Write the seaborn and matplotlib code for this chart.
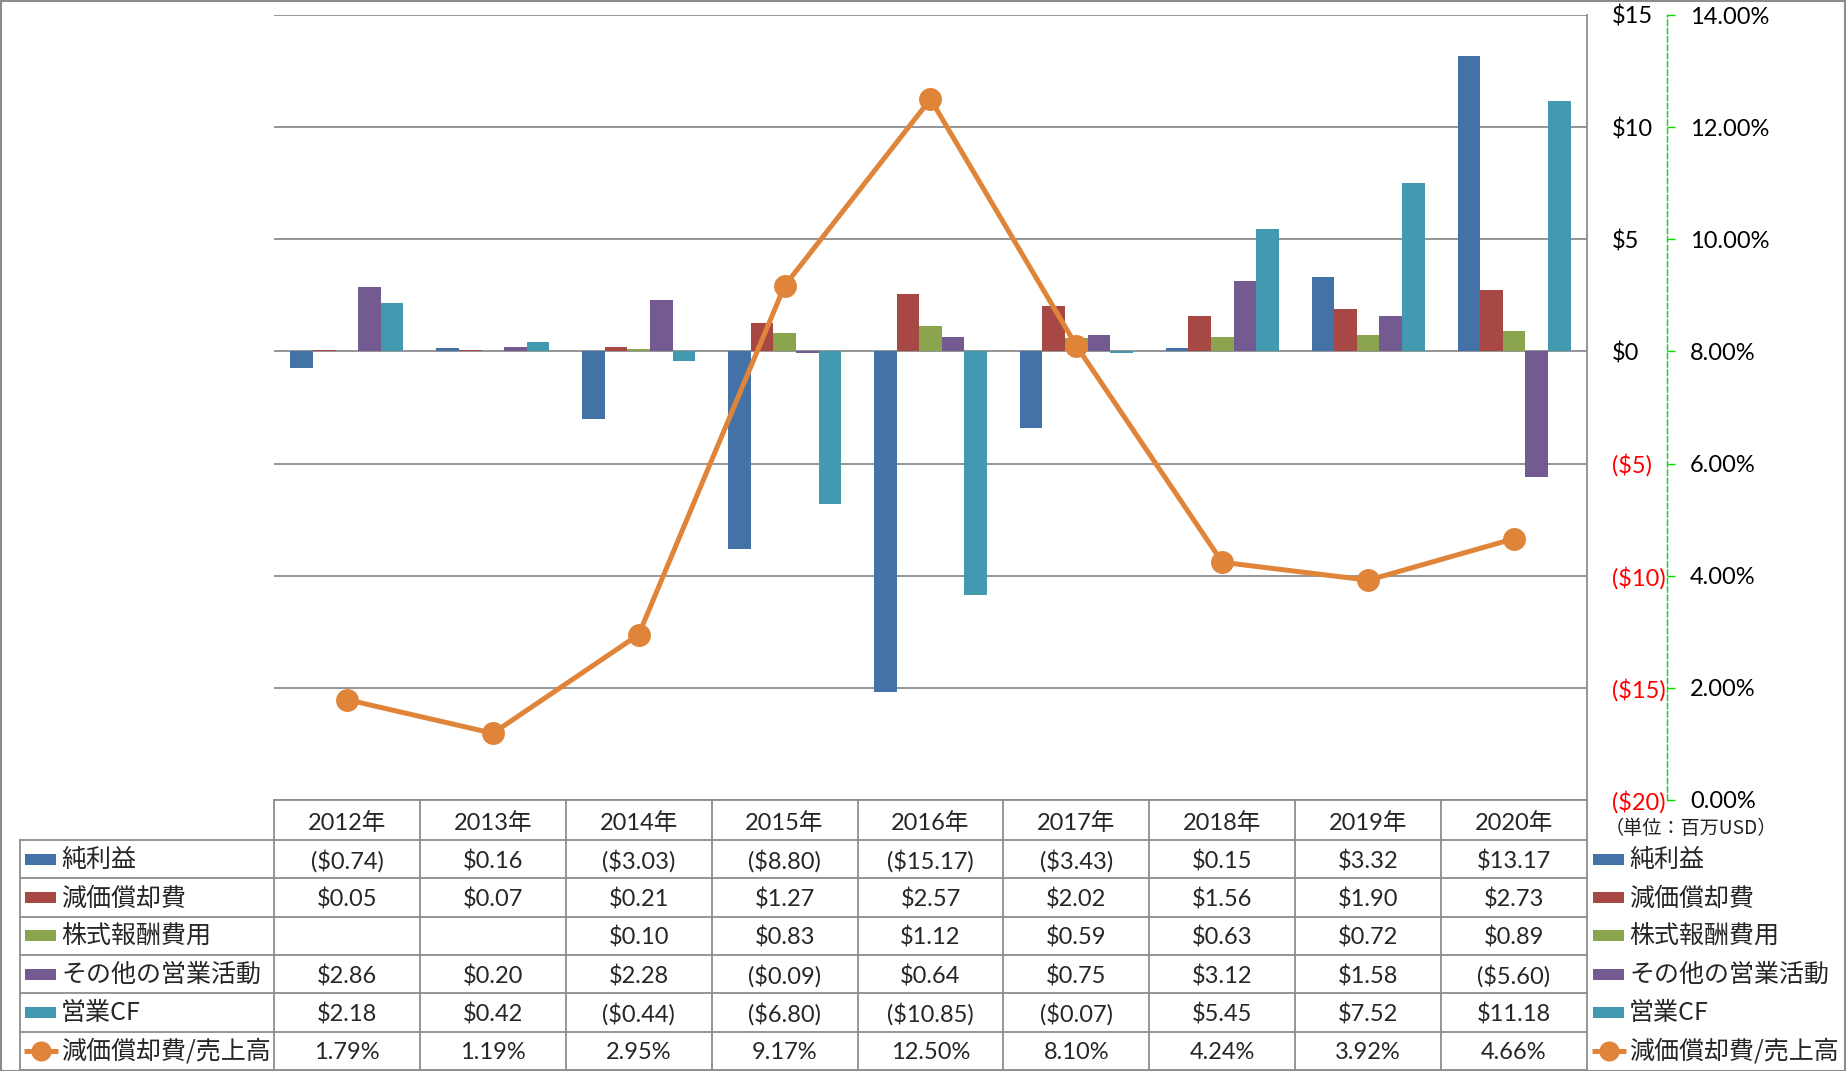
import numpy as np
import pandas as pd
import matplotlib
matplotlib.use("Agg")
import matplotlib.pyplot as plt
import seaborn as sns
from matplotlib.lines import Line2D
from matplotlib.patches import Rectangle

# data (百万USD)
years = ["2012年", "2013年", "2014年", "2015年", "2016年", "2017年", "2018年", "2019年", "2020年"]
series_names = ["純利益", "減価償却費", "株式報酬費用", "その他の営業活動", "営業CF"]
net_income = [-0.74, 0.16, -3.03, -8.80, -15.17, -3.43, 0.15, 3.32, 13.17]
depreciation = [0.05, 0.07, 0.21, 1.27, 2.57, 2.02, 1.56, 1.90, 2.73]
stock_comp = [np.nan, np.nan, 0.10, 0.83, 1.12, 0.59, 0.63, 0.72, 0.89]
other_ops = [2.86, 0.20, 2.28, -0.09, 0.64, 0.75, 3.12, 1.58, -5.60]
operating_cf = [2.18, 0.42, -0.44, -6.80, -10.85, -0.07, 5.45, 7.52, 11.18]
line_name = "減価償却費/売上高"
dep_ratio = [1.79, 1.19, 2.95, 9.17, 12.50, 8.10, 4.24, 3.92, 4.66]  # %

bar_colors = ["#4472A7", "#A84845", "#8AA54E", "#735A90", "#4399B0"]
line_color = "#E0843A"
grid_gray = "#8C8C8C"

sns.set_style("white")
num_font = ["Lato", "Noto Sans CJK JP"]
jp_font = ["Noto Sans CJK JP", "DejaVu Sans"]
plt.rcParams["font.family"] = num_font

all_series = [net_income, depreciation, stock_comp, other_ops, operating_cf]
df = pd.DataFrame({
    "year": np.tile(years, len(series_names)),
    "series": np.repeat(series_names, len(years)),
    "value": np.concatenate(all_series),
}).dropna()

W, H = 1846, 1071
fig = plt.figure(figsize=(W / 100, H / 100), dpi=100)


def fx(x):
    return x / W


def fy(y):
    return 1 - y / H


# plot area in pixel terms
PL, PR, PT, PB = 274, 1587, 15, 800
ax = fig.add_axes([fx(PL), fy(PB), (PR - PL) / W, (PB - PT) / H])
ax2 = ax.twinx()

sns.barplot(data=df, x="year", y="value", hue="series", order=years,
            hue_order=series_names, palette=bar_colors, width=0.775,
            saturation=1, errorbar=None, linewidth=0, legend=False, ax=ax)

yticks = list(range(-20, 16, 5))
ylabels = [f"${v}" if v >= 0 else f"(${-v})" for v in yticks]
ax.set_ylim(-20, 15)
ax.set_yticks(yticks, labels=ylabels)
ax.yaxis.tick_right()
ax.tick_params(axis="y", length=0, pad=18, labelsize=17)
for lbl, v in zip(ax.get_yticklabels(), yticks):
    lbl.set_color("#FF0000" if v < 0 else "black")
ax.tick_params(axis="x", bottom=False, labelbottom=False)
ax.set_xlabel("")
ax.set_ylabel("")
ax.grid(axis="y", color=grid_gray, lw=1.3)
ax.set_axisbelow(True)
for s in ["top", "left", "bottom"]:
    ax.spines[s].set_visible(False)
ax.spines["right"].set_color(grid_gray)
ax.spines["right"].set_linewidth(1.3)

# ratio line on secondary axis
sns.pointplot(x=years, y=dep_ratio, ax=ax2, color=line_color, markers="o",
              linestyles="-", errorbar=None, markersize=16.5, linewidth=3.6,
              markeredgewidth=0)
ax2.set_ylim(0, 14)
ax2.set_yticks(range(0, 15, 2), labels=[f"{v:.2f}%" for v in range(0, 15, 2)])
ax2.set_xlim(-0.5, len(years) - 0.5)
ax2.set_xlabel("")
ax2.set_ylabel("")
for s in ["top", "left", "bottom"]:
    ax2.spines[s].set_visible(False)
ax2.spines["right"].set_position(("outward", 57.6))
ax2.spines["right"].set_color("#00DD00")
ax2.spines["right"].set_linewidth(1)
ax2.spines["right"].set_linestyle((0, (4, 2)))
ax2.tick_params(axis="y", direction="out", length=5.8, width=1, color="#00DD00",
                pad=10.8, labelsize=17, labelcolor="black")

# unit note
fig.text(fx(1605), fy(829), "（単位：百万USD）", ha="left", va="center",
         fontsize=13.8, family=jp_font, color="#222222")

# ---- data table below the chart ----
n = len(years)
colw = (PR - PL) / n
row_top = 840
rowh = (1070 - row_top) / 6
tbl_kw = dict(transform=fig.transFigure, color=grid_gray, lw=1.3)


def hline(x0, x1, y):
    fig.add_artist(Line2D([fx(x0), fx(x1)], [fy(y), fy(y)], **tbl_kw))


def vline(x, y0, y1):
    fig.add_artist(Line2D([fx(x), fx(x)], [fy(y0), fy(y1)], **tbl_kw))


hline(PL, PR, PB)
for k in range(7):
    hline(20, PR, row_top + k * rowh)
for k in range(n + 1):
    vline(PL + k * colw, PB, 1070)
vline(20, row_top, 1070)

for i, yr in enumerate(years):
    fig.text(fx(PL + (i + 0.5) * colw), fy((PB + row_top) / 2 + 3), yr,
             ha="center", va="center", fontsize=17)


def money(v):
    if np.isnan(v):
        return ""
    return f"${v:.2f}" if v >= 0 else f"(${-v:.2f})"


row_texts = [[money(v) for v in s] for s in all_series]
row_texts.append([f"{v:.2f}%" for v in dep_ratio])
row_labels = series_names + [line_name]
row_colors = bar_colors + [line_color]

for r in range(6):
    yc = row_top + (r + 0.5) * rowh
    for i in range(n):
        fig.text(fx(PL + (i + 0.5) * colw), fy(yc + 2), row_texts[r][i],
                 ha="center", va="center", fontsize=17)
    # legend key inside table and on the right
    for sx, tx in [(25, 61), (1593, 1629)]:
        if r < 5:
            fig.add_artist(Rectangle((fx(sx), fy(yc + 5.5)), 31 / W, 11 / H,
                                     transform=fig.transFigure,
                                     color=row_colors[r], lw=0))
        else:
            fig.add_artist(Line2D([fx(sx - 1), fx(sx + 33)], [fy(yc), fy(yc)],
                                  transform=fig.transFigure, color=line_color,
                                  lw=3.6, solid_capstyle="butt"))
            fig.add_artist(Line2D([fx(sx + 15.5)], [fy(yc)],
                                  transform=fig.transFigure, color=line_color,
                                  marker="o", markersize=14.5, mew=0, lw=0))
        fig.text(fx(tx), fy(yc + 1), row_labels[r], ha="left", va="center",
                 fontsize=18, family=jp_font)

# outer frame
fig.add_artist(Rectangle((0.5 / W, 0.5 / H), (W - 1.5) / W, (H - 1.5) / H,
                         transform=fig.transFigure, fill=False,
                         edgecolor=grid_gray, lw=1.5))

fig.savefig("out.png", dpi=100, facecolor="white")
